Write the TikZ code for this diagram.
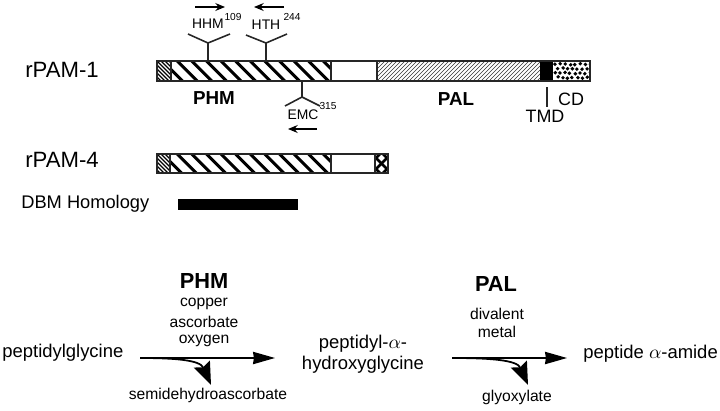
\documentclass[tikz,border=0pt]{standalone}
\usepackage{fontspec}
\setmainfont{Liberation Sans}
\usepackage{amsmath}
\usepackage{tikz}
\usetikzlibrary{arrows,arrows.meta}
\tikzset{
  label/.style={inner sep=0pt,font=\fontsize{10.4}{12}\selectfont},
  small/.style={inner sep=0pt,font=\fontsize{8.9}{10}\selectfont},
  site/.style={inner sep=0pt,font=\fontsize{7.9}{10}\selectfont},
  tiny/.style={inner sep=0pt,font=\fontsize{5.8}{7}\selectfont},
  big/.style={inner sep=0pt,font=\fontsize{10.5}{12}\selectfont},
  bigger/.style={inner sep=0pt,font=\fontsize{10.2}{12}\selectfont},
  rpam/.style={inner sep=0pt,anchor=west,font=\fontsize{12.6}{14}\selectfont},
  enzyme/.style={inner sep=0pt,font=\fontsize{10.7}{12}\selectfont\bfseries},
  enzymebig/.style={inner sep=0pt,font=\fontsize{12.4}{14}\selectfont\bfseries},
  outline/.style={draw=black!85,line width=0.7pt},
  fork/.style={black!85,line width=0.9pt},
  thinarrow/.style={-{Stealth[length=5.5pt,width=4.5pt]},line width=0.7pt},
  mainarrow/.style={-{Stealth[length=12.5pt,width=7pt,inset=0.5pt]},line width=0.75pt},
  sidearrow/.style={-{Stealth[length=13pt,width=10pt,inset=2pt]},line width=1pt}
}
\begin{document}
\begin{tikzpicture}[x=0.02cm,y=-0.02cm]
  \useasboundingbox (0,0) rectangle (720,410);
  % rPAM-1 bar
  \begin{scope}
    \clip (157,61) rectangle (171,81);
    \foreach \x in {137,141,...,173} {
      \draw[line width=0.75pt] (\x,61) -- (\x+20,81);
    }
  \end{scope}
  \begin{scope}
    \clip (171,61) rectangle (331,81);
    \foreach \x in {148,162.6,...,335} {
      \draw[line width=1.7pt] (\x,61) -- (\x+20,81);
    }
  \end{scope}
  \begin{scope}
    \clip (377,61) rectangle (540,81);
    \foreach \x in {357,361,...,545} {
      \draw[line width=0.35pt,black!80] (\x,81) -- (\x+20,61);
    }
  \end{scope}
  \fill (540,61) rectangle (553,81);
  \begin{scope}
    \clip (553,61) rectangle (590,81);
    \pgfmathsetseed{7}
    \foreach \y in {0,1,2,3} {
      \foreach \x in {0,1,...,7} {
        \pgfmathsetmacro\dd{mod(\y,2)*2.5+rand*0.9}
        \pgfmathsetmacro\ee{rand*0.8}
        \fill (555+\x*5+\dd,64+\y*4.5+\ee) circle (1.1pt);
      }
    }
  \end{scope}
  \draw[outline] (157,61) rectangle (590,81);
  \draw[outline] (171,61) -- (171,81);
  \draw[outline] (331,61) -- (331,81);
  \draw[outline] (377,61) -- (377,81);
  % rPAM-4 bar
  \begin{scope}
    \clip (157,154) rectangle (170,173);
    \foreach \x in {137,141,...,173} {
      \draw[line width=0.75pt] (\x,154) -- (\x+19,173);
    }
  \end{scope}
  \begin{scope}
    \clip (170,154) rectangle (331,173);
    \foreach \x in {148,162.6,...,335} {
      \draw[line width=1.7pt] (\x,154) -- (\x+19,173);
    }
  \end{scope}
  \begin{scope}
    \clip (375,154) rectangle (388,173);
    \foreach \x in {350,361,...,390} {
      \draw[line width=1.5pt] (\x,154) -- (\x+19,173);
      \draw[line width=1.5pt] (\x,173) -- (\x+19,154);
    }
  \end{scope}
  \draw[outline] (157,154) rectangle (388,173);
  \draw[outline] (170,154) -- (170,173);
  \draw[outline] (331,154) -- (331,173);
  \draw[outline] (375,154) -- (375,173);
  % DBM bar
  \fill (178,199) rectangle (298,210);
  % antibody forks
  \coordinate (hhmbase) at (208,61);
  \coordinate (hhmfork) at (208,43);
  \coordinate (hhmleft) at (188,34);
  \coordinate (hhmright) at (230,34);
  \draw[fork] (hhmbase) -- (hhmfork) (hhmleft) -- (hhmfork) -- (hhmright);
  \coordinate (hthbase) at (266,61);
  \coordinate (hthfork) at (266,43);
  \coordinate (hthleft) at (246,35);
  \coordinate (hthright) at (287,34);
  \draw[fork] (hthbase) -- (hthfork) (hthleft) -- (hthfork) -- (hthright);
  \coordinate (emcbase) at (302,81);
  \coordinate (emcfork) at (302,97);
  \coordinate (emcleft) at (285,106);
  \coordinate (emcright) at (320,106);
  \draw[fork] (emcbase) -- (emcfork) (emcleft) -- (emcfork) -- (emcright);
  \coordinate (tmdtop) at (547,87);
  \coordinate (tmdbot) at (547,107);
  \draw[fork] (tmdtop) -- (tmdbot);
  % primer arrows
  \coordinate (hhmfrom) at (195,7);
  \coordinate (hhmto) at (225,7);
  \coordinate (hthfrom) at (284,7);
  \coordinate (hthto) at (254,7);
  \coordinate (emcfrom) at (317,129);
  \coordinate (emcto) at (288,129);
  \draw[thinarrow] (hhmfrom) -- (hhmto);
  \draw[thinarrow] (hthfrom) -- (hthto);
  \draw[thinarrow] (emcfrom) -- (emcto);
  % domain labels
  \node[site] (hhm) at (208,24) {HHM};
  \node[tiny] (hhmnum) at (233,17) {109};
  \node[site] (hth) at (266,25) {HTH};
  \node[tiny] (hthnum) at (292,17) {244};
  \node[site] (emc) at (303,115) {EMC};
  \node[tiny] (emcnum) at (328,106) {315};
  \node[enzyme] (phmbar) at (214,98) {PHM};
  \node[enzyme] (palbar) at (456,99) {PAL};
  \node[bigger] (cd) at (571,99) {CD};
  \node[bigger] (tmd) at (545,116) {TMD};
  \node[rpam] (rpamone) at (25,70) {rPAM-1};
  \node[rpam] (rpamfour) at (25,160) {rPAM-4};
  \node[label,anchor=west] (dbm) at (21,204) {DBM Homology};
  % first reaction
  \node[big,anchor=west] (substrate) at (2,353) {peptidylglycine};
  \node[enzymebig] (phm) at (204,281) {PHM};
  \node[small] (copper) at (204,304) {copper};
  \node[small] (ascorbate) at (204,322) {ascorbate};
  \node[small] (oxygen) at (204,341) {oxygen};
  \node[small] (semi) at (208,395) {semidehydroascorbate};
  \coordinate (phmfrom) at (140,358);
  \coordinate (phmto) at (275,358);
  \coordinate (semito) at (211,385);
  \draw[mainarrow] (phmfrom) -- (phmto);
  \draw[sidearrow] (phmfrom) .. controls (175,358) and (200,360) .. (semito);
  % second reaction
  \node[big] (hydroxya) at (363,344) {peptidyl-$\alpha$-};
  \node[big] (hydroxyb) at (363,365) {hydroxyglycine};
  \node[enzymebig] (pal) at (496,284) {PAL};
  \node[small] (divalent) at (497,314) {divalent};
  \node[small] (metal) at (497,332) {metal};
  \node[small] (glyoxylate) at (517,397) {glyoxylate};
  \node[big,anchor=west] (amide) at (583,354) {peptide $\alpha$-amide};
  \coordinate (palfrom) at (452,358);
  \coordinate (palto) at (567,358);
  \coordinate (glyoxto) at (528,385);
  \draw[mainarrow] (palfrom) -- (palto);
  \draw[sidearrow] (palfrom) .. controls (490,358) and (517,360) .. (glyoxto);
\end{tikzpicture}
\end{document}
